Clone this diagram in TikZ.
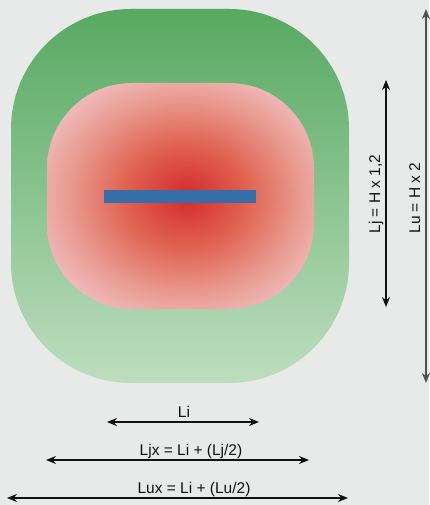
\documentclass[tikz,border=0pt]{standalone}
\usepackage{fontspec}
\setmainfont{Liberation Sans}
\usetikzlibrary{arrows.meta}
\definecolor{cbg}{HTML}{E8EAE9}
\definecolor{cgreentop}{HTML}{57A961}
\definecolor{cgreenbot}{HTML}{BEDEBF}
\definecolor{cpink}{HTML}{EFBBBC}
\definecolor{cred}{HTML}{D42A2E}
\definecolor{credmid}{HTML}{E0604F}
\definecolor{csalmon}{HTML}{E99C92}
\definecolor{cblue}{HTML}{356EA9}
\definecolor{cink}{HTML}{111111}
\definecolor{cgrey}{HTML}{505050}
\pgfdeclareradialshading{redglow}{\pgfpoint{1.2bp}{0bp}}{color(0bp)=(cred); color(11bp)=(credmid);
  color(22bp)=(csalmon); color(29bp)=(cpink); color(50bp)=(cpink)}

\begin{document}
\begin{tikzpicture}[
  x=1pt, y=-1pt,
  font=\fontsize{15.5}{18}\selectfont,
  outer/.style={top color=cgreentop, bottom color=cgreenbot, rounded corners=120pt},
  inner/.style={shading=redglow, rounded corners=85pt},
  bar/.style={fill=cblue},
  dim/.style={{Stealth[length=10pt, width=8pt]}-{Stealth[length=10pt, width=8pt]},
              line width=1.2pt, draw=cink},
  dimbig/.style={dim, line width=2pt, draw=cgrey},
  lbl/.style={text=cink, inner sep=0pt, anchor=base}
]
\path[use as bounding box, fill=cbg] (0,0) rectangle (429,505);
\shade[outer] (11,9) rectangle (349,383);
\shade[inner] (47,83) rectangle (314,309);
\fill[bar] (104,190) rectangle (256,203);
\coordinate (li-l)  at (107,422);
\coordinate (li-r)  at (259,422);
\coordinate (ljx-l) at (46,460);
\coordinate (ljx-r) at (309,460);
\coordinate (lux-l) at (7,498);
\coordinate (lux-r) at (348,498);
\coordinate (lj-t)  at (386,80);
\coordinate (lj-b)  at (386,307);
\coordinate (lu-t)  at (426,9);
\coordinate (lu-b)  at (426,383);
\draw[dim] (li-l) -- (li-r);
\draw[dim] (ljx-l) -- (ljx-r);
\draw[dim] (lux-l) -- (lux-r);
\draw[dim] (lj-t) -- (lj-b);
\draw[dimbig] (lu-t) -- (lu-b);
\node[lbl] (li)  at (184,417) {Li};
\node[lbl] (ljx) at (191,455) {Ljx = Li + (Lj/2)};
\node[lbl] (lux) at (194,493) {Lux = Li + (Lu/2)};
\node[lbl, rotate=90] (lj) at (380,194) {Lj = H x 1,2};
\node[lbl, rotate=90] (lu) at (420,198) {Lu = H x 2};
\end{tikzpicture}
\end{document}
